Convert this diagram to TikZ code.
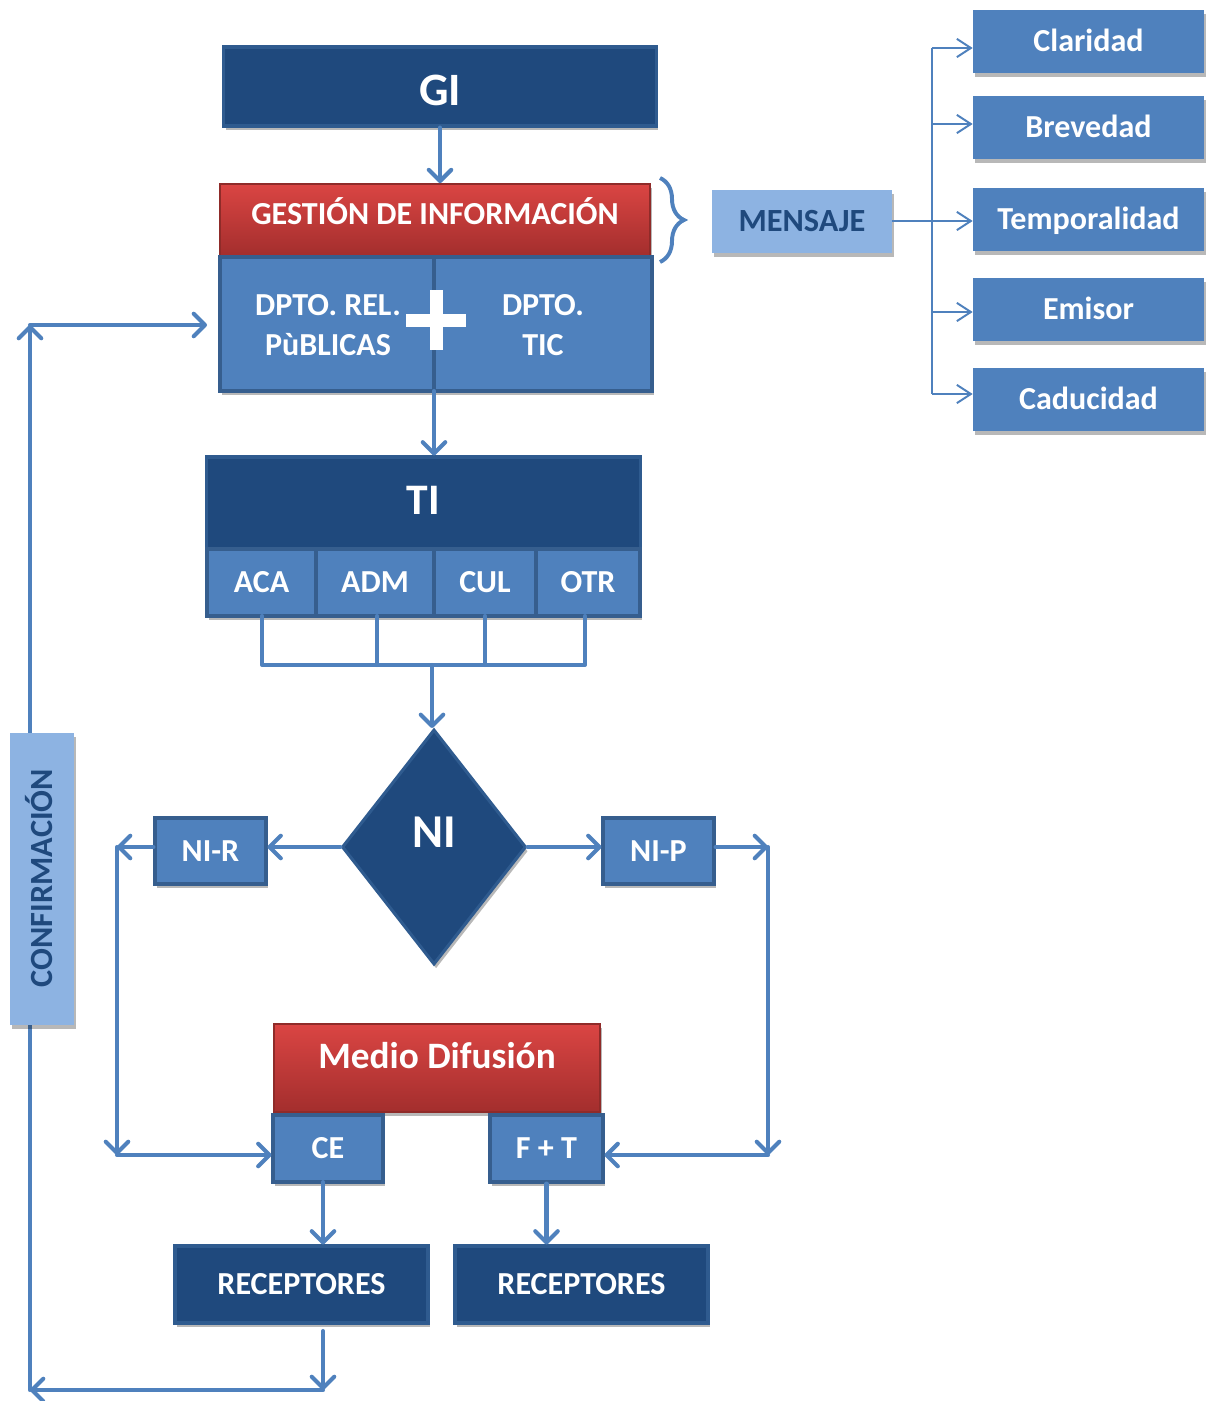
\documentclass[tikz,border=0pt]{standalone}
\usepackage{fontspec}
\setmainfont{Carlito}
\usetikzlibrary{arrows.meta,shapes.geometric,shadows,decorations.pathreplacing,calc}
\definecolor{dkb}{HTML}{1F497D}
\definecolor{dkbd}{HTML}{2F5B8F}
\definecolor{mdb}{HTML}{4F81BD}
\definecolor{mdbd}{HTML}{365E8E}
\definecolor{ltb}{HTML}{8DB3E2}
\definecolor{redt}{HTML}{DA4543}
\definecolor{redb}{HTML}{A32E2D}
\definecolor{redd}{HTML}{8F2B29}
\newcommand\myfs[2]{\fontsize{#1pt}{#2pt}\selectfont}
\tikzset{
  sh/.style={drop shadow={shadow xshift=1.5pt,shadow yshift=-3pt,opacity=0.28,fill=black}},
  basebox/.style={rectangle, inner sep=0pt, text=white, sh, font=\bfseries\myfs{22.8}{28}, text height=14.4pt, text depth=0pt},
  darkbox/.style={basebox, draw=dkbd, line width=2.2pt, fill=dkb},
  medbox/.style={basebox, draw=mdbd, line width=2.2pt, fill=mdb},
  flatbox/.style={basebox, fill=mdb},
  lightbox/.style={basebox, fill=ltb, text=dkb},
  redbox/.style={basebox, draw=redd, line width=1.2pt, top color=redt, bottom color=redb},
  twoline/.style={rectangle, inner sep=0pt, text=white, font=\bfseries\myfs{22.8}{28.5}, align=center},
  arr/.style={draw=mdb, line width=2.9pt, line cap=round, line join=round,
    -{Straight Barb[length=8pt,width=16pt,line cap=round,line join=round]}},
  ln/.style={draw=mdb, line width=2.9pt, line cap=round, line join=round},
  thinln/.style={draw=mdb, line width=1.4pt},
  thinarr/.style={draw=mdb, line width=1.4pt, -{Straight Barb[length=10pt,width=13pt,line width=1.4pt]}},
}
\begin{document}
\begin{tikzpicture}[x=0.025cm,y=-0.025cm]
\useasboundingbox (0,0) rectangle (1210,1401);

% ---------- top ----------
\node[darkbox, minimum width=10.8cm, minimum height=1.975cm, font=\bfseries\myfs{33}{38}, text height=20.9pt] (GI) at (440,86.5) {\raisebox{-3pt}{GI}};
\node[redbox, minimum width=10.75cm, minimum height=1.8cm] (GEST) at (435,220) {\raisebox{4.3pt}{GESTIÓN DE INFORMACIÓN}};
\node[medbox, minimum width=5.35cm, minimum height=3.35cm] (DL) at (327,324) {};
\node[medbox, minimum width=5.45cm, minimum height=3.35cm] (DR) at (543,324) {};
\node[twoline] (DLt) at (328,325) {DPTO. REL.\\PùBLICAS};
\node[twoline] (DRt) at (543,325) {DPTO.\\TIC};
\fill[white] (406,313.5) rectangle (466,326.5);
\fill[white] (429.5,290) rectangle (442.5,350);

\draw[arr] (GI.south) -- (GI.south |- GEST.north);

% brace and message
\coordinate (brT) at (660,178);
\coordinate (brB) at (660,262);
\draw[mdb, line width=2.8pt, decorate, decoration={brace, amplitude=0.6cm}] (brT) -- (brB);
\node[lightbox, minimum width=4.5cm, minimum height=1.575cm, font=\bfseries\myfs{23}{28}] (MEN) at (802,221.5) {MENSAJE};

\node[flatbox, minimum width=5.775cm, minimum height=1.575cm] (C1) at (1088.5,41.5) {Claridad};
\node[flatbox, minimum width=5.775cm, minimum height=1.575cm] (C2) at (1088.5,127.5) {Brevedad};
\node[flatbox, minimum width=5.775cm, minimum height=1.575cm] (C3) at (1088.5,219.5) {Temporalidad};
\node[flatbox, minimum width=5.775cm, minimum height=1.575cm] (C4) at (1088.5,309.5) {Emisor};
\node[flatbox, minimum width=5.775cm, minimum height=1.575cm] (C5) at (1088.5,399.5) {Caducidad};

\coordinate (t1) at (932,48);
\coordinate (t2) at (932,124);
\coordinate (t3) at (932,221);
\coordinate (t4) at (932,312);
\coordinate (t5) at (932,394);
\draw[thinln] (t1) -- (t5);
\draw[thinln] (MEN.east |- t3) -- (t3);
\draw[thinarr] (t1) -- (C1.west |- t1);
\draw[thinarr] (t2) -- (C2.west |- t2);
\draw[thinarr] (t3) -- (C3.west |- t3);
\draw[thinarr] (t4) -- (C4.west |- t4);
\draw[thinarr] (t5) -- (C5.west |- t5);

% ---------- TI ----------
\node[darkbox, minimum width=10.825cm, minimum height=2.3cm, font=\bfseries\myfs{31}{36}, text height=19.6pt] (TI) at (423.5,503) {\raisebox{1.4pt}{TI}};
\node[medbox, minimum width=2.725cm, minimum height=1.675cm] (ACA) at (261.5,582.5) {ACA};
\node[medbox, minimum width=2.95cm, minimum height=1.675cm] (ADM) at (375,582.5) {ADM};
\node[medbox, minimum width=2.55cm, minimum height=1.675cm] (CUL) at (485,582.5) {CUL};
\node[medbox, minimum width=2.6cm, minimum height=1.675cm] (OTR) at (588,582.5) {OTR};

\coordinate (dbot) at (434,391);
\draw[arr] (dbot) -- (dbot |- TI.north);

\coordinate (hb) at (432,665);
\coordinate (a0) at (262,616);
\coordinate (a1) at (377,616);
\coordinate (a2) at (485,616);
\coordinate (a3) at (585,616);
\draw[ln] (a0) |- (a3 |- hb) -- (a3);
\draw[ln] (a1) -- (a1 |- hb);
\draw[ln] (a2) -- (a2 |- hb);

% ---------- NI ----------
\node[diamond, draw=dkbd, line width=2.2pt, fill=dkb, minimum width=4.6cm, minimum height=5.875cm, inner sep=0pt, sh] (NI) at (434,847) {};
\node[text=white, font=\bfseries\myfs{33.5}{38}, inner sep=0pt, text height=21.2pt, text depth=0pt] (NIt) at (434,833) {NI};
\draw[arr] (hb) -- (hb |- NI.north);

\node[medbox, minimum width=2.775cm, minimum height=1.65cm] (NIR) at (210.5,851) {NI-R};
\node[medbox, minimum width=2.775cm, minimum height=1.65cm] (NIP) at (658.5,851) {NI-P};

\draw[arr] (NI.west) -- (NI.west -| NIR.east);
\draw[arr] (NI.east) -- (NI.east -| NIP.west);

% ---------- Medio ----------
\node[redbox, minimum width=8.15cm, minimum height=2.2cm, font=\bfseries\myfs{26.5}{32}, text height=16.7pt] (MD) at (437,1068) {\raisebox{7.8pt}{Medio Difusión}};
\node[medbox, minimum width=2.75cm, minimum height=1.675cm] (CE) at (328,1148.5) {CE};
\node[medbox, minimum width=2.825cm, minimum height=1.675cm] (FT) at (546.5,1148.5) {F + T};

\coordinate (cl1) at (117,847);
\coordinate (cl2) at (117,1155);
\coordinate (cr1) at (768,847);
\coordinate (cr2) at (768,1155);
\draw[arr] (NIR.west |- cl1) -- (cl1);
\draw[arr] (cl1) -- (cl2);
\draw[arr] (cl2) -- (cl2 -| CE.west);
\draw[arr] (NIP.east |- cr1) -- (cr1);
\draw[arr] (cr1) -- (cr2);
\draw[arr] (cr2) -- (cr2 -| FT.east);

\node[darkbox, minimum width=6.325cm, minimum height=1.925cm] (R1) at (301.5,1284.5) {RECEPTORES};
\node[darkbox, minimum width=6.325cm, minimum height=1.925cm] (R2) at (581.5,1284.5) {RECEPTORES};
\coordinate (ce0) at (323,1182);
\draw[arr] (ce0) -- (ce0 |- R1.north);
\draw[arr] (FT.south) -- (FT.south |- R2.north);

% ---------- return loop ----------
\coordinate (cb0) at (323,1331);
\coordinate (cb1) at (323,1390);
\coordinate (cb2) at (30,1390);
\coordinate (cb3) at (30,325);
\coordinate (cb4) at (207,325);
\draw[arr] (cb0) -- (cb1);
\draw[arr] (cb1) -- (cb2);
\draw[arr] (cb2) -- (cb3);
\draw[arr] (cb3) -- (cb4);

\node[lightbox, minimum width=1.6cm, minimum height=7.3cm, text height=0pt] (CONF) at (42,879) {};
\node[text=dkb, font=\bfseries\myfs{23}{26}, rotate=90, inner sep=0pt, text height=14.5pt, text depth=0pt] (CONFt) at (42,878) {CONFIRMACIÓN};
\end{tikzpicture}
\end{document}
